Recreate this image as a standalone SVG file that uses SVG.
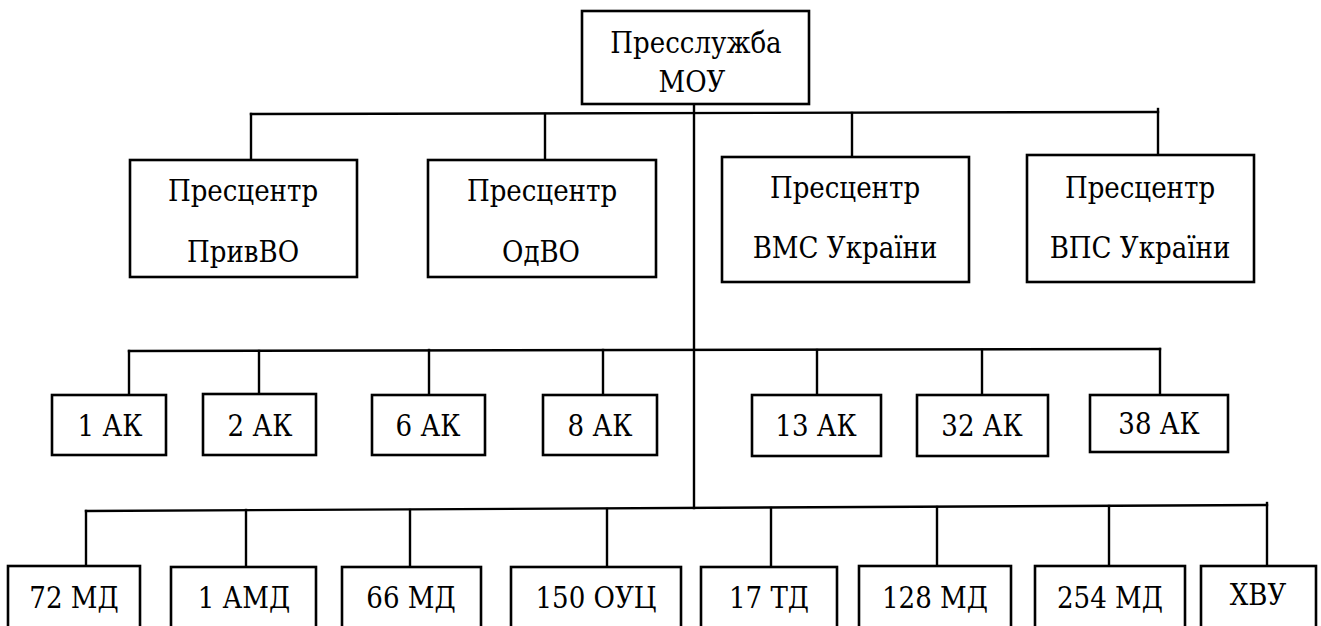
<svg xmlns="http://www.w3.org/2000/svg" width="1321" height="626" viewBox="0 0 1321 626">
<style>
rect{fill:#fff;stroke:#000;stroke-width:2.6}
.c line{stroke:#000;stroke-width:2.4;stroke-linecap:square}
text{font-family:'DejaVu Serif Condensed','DejaVu Serif',serif;font-stretch:condensed;font-size:29px;fill:#000;text-anchor:middle}
</style>
<rect x="0" y="0" width="1321" height="626" style="stroke:none"/>
<g class="c" id="connectors">
<line x1="694" y1="104" x2="694" y2="508"/>
<line x1="251" y1="114" x2="1158" y2="112"/>
<line x1="251" y1="114" x2="251" y2="160"/>
<line x1="545" y1="114" x2="545" y2="160"/>
<line x1="852" y1="113" x2="852" y2="157"/>
<line x1="1158" y1="109" x2="1158" y2="155"/>
<line x1="129" y1="351" x2="1160" y2="349"/>
<line x1="129" y1="351" x2="129" y2="395"/>
<line x1="259" y1="351" x2="259" y2="394"/>
<line x1="429" y1="350" x2="429" y2="395"/>
<line x1="603" y1="350" x2="603" y2="395"/>
<line x1="817" y1="350" x2="817" y2="395"/>
<line x1="982" y1="350" x2="982" y2="395"/>
<line x1="1160" y1="349" x2="1160" y2="395"/>
<line x1="86" y1="511" x2="1267" y2="505"/>
<line x1="86" y1="511" x2="86" y2="566"/>
<line x1="246" y1="510" x2="246" y2="567"/>
<line x1="410" y1="510" x2="410" y2="567"/>
<line x1="607" y1="509" x2="607" y2="567"/>
<line x1="771" y1="508" x2="771" y2="567"/>
<line x1="937" y1="507" x2="937" y2="566"/>
<line x1="1109" y1="506" x2="1109" y2="566"/>
<line x1="1267" y1="503" x2="1267" y2="566"/>
</g>
<g id="n-moy"><rect x="582" y="11" width="227" height="93"/><text x="696" y="53">Пресслужба</text><text x="692" y="92">МОУ</text></g>
<g id="n-privvo"><rect x="130" y="160" width="227" height="117"/><text x="243" y="201">Пресцентр</text><text x="243" y="262">ПривВО</text></g>
<g id="n-odvo"><rect x="428" y="160" width="228" height="117"/><text x="542" y="201">Пресцентр</text><text x="541" y="262">ОдВО</text></g>
<g id="n-vms"><rect x="722" y="157" width="247" height="125"/><text x="845" y="198">Пресцентр</text><text x="845" y="258">ВМС України</text></g>
<g id="n-vps"><rect x="1027" y="155" width="227" height="127"/><text x="1140" y="198">Пресцентр</text><text x="1140" y="258">ВПС України</text></g>
<g id="n-1ak"><rect x="52" y="395" width="114" height="60"/><text x="110" y="436">1 АК</text></g>
<g id="n-2ak"><rect x="203" y="394" width="113" height="61"/><text x="260" y="436">2 АК</text></g>
<g id="n-6ak"><rect x="372" y="395" width="113" height="60"/><text x="428" y="436">6 АК</text></g>
<g id="n-8ak"><rect x="543" y="395" width="114" height="60"/><text x="600" y="436">8 АК</text></g>
<g id="n-13ak"><rect x="752" y="395" width="129" height="61"/><text x="816" y="436">13 АК</text></g>
<g id="n-32ak"><rect x="917" y="395" width="131" height="61"/><text x="982" y="436">32 АК</text></g>
<g id="n-38ak"><rect x="1090" y="395" width="138" height="57"/><text x="1159" y="434">38 АК</text></g>
<g id="n-72md"><rect x="8" y="566" width="132" height="80"/><text x="74" y="608">72 МД</text></g>
<g id="n-1amd"><rect x="171" y="567" width="145" height="80"/><text x="244" y="608">1 АМД</text></g>
<g id="n-66md"><rect x="342" y="567" width="139" height="80"/><text x="411" y="608">66 МД</text></g>
<g id="n-150oyc"><rect x="511" y="567" width="170" height="80"/><text x="596" y="608">150 ОУЦ</text></g>
<g id="n-17td"><rect x="701" y="567" width="136" height="80"/><text x="769" y="608">17 ТД</text></g>
<g id="n-128md"><rect x="859" y="566" width="152" height="80"/><text x="935" y="608">128 МД</text></g>
<g id="n-254md"><rect x="1035" y="566" width="150" height="80"/><text x="1110" y="608">254 МД</text></g>
<g id="n-xvu"><rect x="1201" y="566" width="115" height="80"/><text x="1258" y="605">ХВУ</text></g>
</svg>
